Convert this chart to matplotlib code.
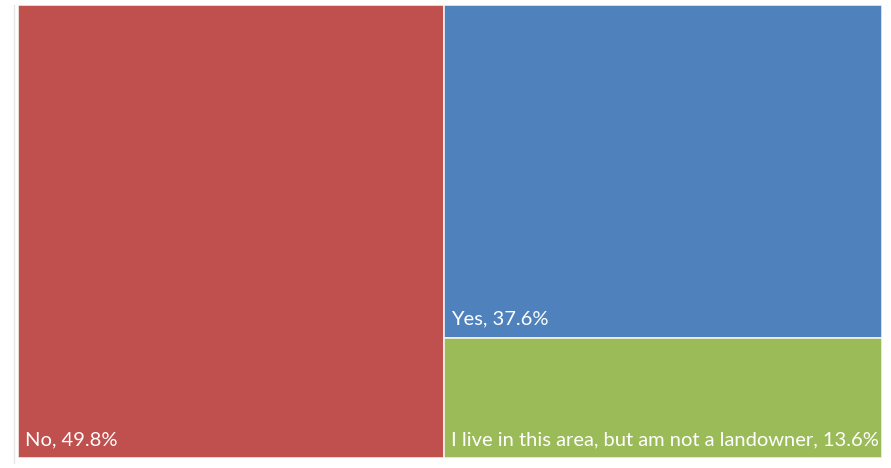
import matplotlib.pyplot as plt
from matplotlib.patches import Rectangle

labels = ["No", "Yes", "I live in this area, but am not a landowner"]
values = [49.8, 37.6, 13.6]
colors = ["#C0504D", "#4F81BD", "#9BBB59"]

plt.rcParams["font.family"] = ["Lato", "DejaVu Sans"]

W, H = 891, 468
fig = plt.figure(figsize=(W / 100, H / 100), dpi=100)
fig.patch.set_facecolor("white")
ax = fig.add_axes([18 / W, 10 / H, 864 / W, 453 / H])
ax.set_xlim(0, 1)
ax.set_ylim(0, 1)
ax.axis("off")

total = sum(values)
# first slice takes a full-height column, the rest stack in the remaining column
w0 = values[0] / total
rects = [(0, 0, w0, 1)]
rest = values[1] + values[2]
h1 = values[1] / rest
rects.append((w0, 1 - h1, 1 - w0, h1))
rects.append((w0, 0, 1 - w0, 1 - h1))

for (x, y, w, h), lab, v, c in zip(rects, labels, values, colors):
    ax.add_patch(Rectangle((x, y), w, h, facecolor=c, edgecolor="#f4f0ec", lw=1.2))
    ax.annotate(f"{lab}, {v}%", xy=(x, y), xytext=(7, 10), textcoords="offset pixels",
                color="white", fontsize=14.5, ha="left", va="bottom")

# faint left border line as in the source
fig.add_artist(plt.Line2D([14.5 / W, 14.5 / W], [5 / H, 463 / H], color="#e6e6e6", lw=1))

fig.savefig("out.png", dpi=100)
